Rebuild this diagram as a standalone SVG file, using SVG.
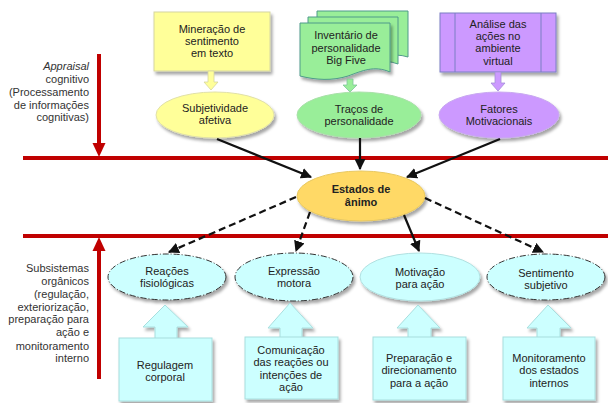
<svg xmlns="http://www.w3.org/2000/svg" width="608" height="403" viewBox="0 0 608 403">
<defs>
<style>
text{font-family:"Liberation Sans",Arial,sans-serif;font-size:11px;fill:#222;text-anchor:middle}
.lt{text-anchor:end;fill:#333}
.b{font-weight:bold}
.red{fill:#c00000}
.con{stroke:#111;stroke-width:2.2;fill:none}
.dash{stroke-dasharray:7,4}
.cy{fill:#ccffff}
.cyb{fill:#ccffff;stroke:#a8dede;stroke-width:1}
.cye{fill:#ccffff;stroke:#333;stroke-width:1;stroke-dasharray:6,2,1,2}
</style>
<filter id="sh" x="-20%" y="-20%" width="150%" height="160%">
<feDropShadow dx="2" dy="3" stdDeviation="1.8" flood-color="#000" flood-opacity="0.35"/>
</filter>
<marker id="ah" viewBox="0 0 10 10" refX="9" refY="5" markerWidth="5" markerHeight="5" orient="auto" markerUnits="strokeWidth">
<path d="M0,0 L10,5 L0,10 Z" fill="#111"/>
</marker>
</defs>
<rect width="608" height="403" fill="#fff"/>

<!-- red bands and arrows -->
<g id="bands">
<rect class="red" x="23" y="156" width="585" height="4"/>
<rect class="red" x="23" y="234" width="585" height="4"/>
<rect class="red" x="97" y="54" width="4" height="90"/>
<polygon class="red" points="92.5,143 105.5,143 99,157"/>
<rect class="red" x="97" y="250" width="4" height="129"/>
<polygon class="red" points="92.5,251 105.5,251 99,237"/>
</g>

<g id="label-appraisal">
<text class="lt" x="89" y="70"><tspan font-style="italic">Appraisal</tspan></text>
<text class="lt" x="89" y="83">cognitivo</text>
<text class="lt" x="89" y="96">(Processamento</text>
<text class="lt" x="89" y="109">de informações</text>
<text class="lt" x="89" y="121">cognitivas)</text>
</g>

<g id="label-subsistemas">
<text class="lt" x="89" y="272">Subsistemas</text>
<text class="lt" x="89" y="285">orgânicos</text>
<text class="lt" x="89" y="298">(regulação,</text>
<text class="lt" x="89" y="311">exteriorização,</text>
<text class="lt" x="89" y="323">preparação para</text>
<text class="lt" x="89" y="336">ação e</text>
<text class="lt" x="89" y="350">monitoramento</text>
<text class="lt" x="89" y="362">interno</text>
</g>

<!-- top source boxes -->
<g id="mineracao">
<rect x="154" y="12" width="116" height="59" fill="#ffff99" stroke="#d6d6a0" stroke-width="1" filter="url(#sh)"/>
<text x="212" y="33">Mineração de</text>
<text x="212" y="45">sentimento</text>
<text x="212" y="57">em texto</text>
</g>
<g id="inventario">
<path d="M317,11 H408 V57 C392,52 380,58 368,62 C352,66 335,62 317,60 Z" fill="#99ee99" stroke="#4f9a8a" stroke-width="1"/>
<path d="M308,17 H398 V64 C382,58 370,64 358,68 C342,72 325,70 308,66 Z" fill="#99ee99" stroke="#4f9a8a" stroke-width="1"/>
<path d="M300,23 H390 V72 C374,65 362,71 348,76 C332,81 316,80 300,76 Z" fill="#99ee99" stroke="#4f9a8a" stroke-width="1" filter="url(#sh)"/>
<text x="346" y="39">Inventário de</text>
<text x="346" y="52">personalidade</text>
<text x="346" y="64">Big Five</text>
</g>
<g id="analise">
<rect x="440" y="13" width="116" height="59" fill="#cc99ff" stroke="#7b7fc4" stroke-width="1" filter="url(#sh)"/>
<line x1="455" y1="13" x2="455" y2="72" stroke="#7b7fc4"/>
<line x1="541" y1="13" x2="541" y2="72" stroke="#7b7fc4"/>
<text x="498" y="28">Análise das</text>
<text x="498" y="40">ações no</text>
<text x="498" y="52">ambiente</text>
<text x="498" y="65">virtual</text>
</g>

<!-- small block arrows top -->
<g id="small-arrows">
<polygon points="208,71 214,71 214,82 218,82 211,90 204,82 208,82" fill="#ffff99" stroke="#d6d6a0" stroke-width="0.8"/>
<polygon points="347,79 353,79 353,85 357,85 350,92 343,85 347,85" fill="#99ee99" stroke="#7fc49a" stroke-width="0.8"/>
<polygon points="495,72 501,72 501,83 505,83 498,91 491,83 495,83" fill="#cc99ff" stroke="#a58fd8" stroke-width="0.8"/>
</g>

<!-- top ellipses -->
<g id="subjetividade">
<ellipse cx="215" cy="115" rx="59" ry="23" fill="#ffff99" stroke="#e0e0a8" filter="url(#sh)"/>
<text x="215" y="112">Subjetividade</text>
<text x="215" y="124">afetiva</text>
</g>
<g id="tracos">
<ellipse cx="359" cy="115" rx="62" ry="23" fill="#99ee99" stroke="#a8e0a8" filter="url(#sh)"/>
<text x="359" y="113">Traços de</text>
<text x="359" y="125">personalidade</text>
</g>
<g id="fatores">
<ellipse cx="499" cy="115" rx="60" ry="23" fill="#cc99ff" stroke="#c8a8f0" filter="url(#sh)"/>
<text x="499" y="113">Fatores</text>
<text x="499" y="125">Motivacionais</text>
</g>

<!-- center -->
<g id="estados">
<ellipse cx="361" cy="196" rx="64" ry="25" fill="#ffd966" stroke="#e8c860" filter="url(#sh)"/>
<text class="b" x="361" y="193">Estados de</text>
<text class="b" x="361" y="206">ânimo</text>
</g>

<!-- connectors -->
<g id="connectors">
<line class="con" x1="217" y1="139" x2="311" y2="177" marker-end="url(#ah)"/>
<line class="con" x1="360" y1="138" x2="360" y2="169" marker-end="url(#ah)"/>
<line class="con" x1="500" y1="139" x2="407" y2="177" marker-end="url(#ah)"/>
<line class="con dash" x1="296" y1="197" x2="169" y2="252" marker-end="url(#ah)"/>
<line class="con dash" x1="310" y1="212" x2="296" y2="251" marker-end="url(#ah)"/>
<line class="con" x1="404" y1="215" x2="419" y2="251" marker-end="url(#ah)"/>
<line class="con dash" x1="425" y1="198" x2="543" y2="252" marker-end="url(#ah)"/>
</g>

<!-- bottom ellipses -->
<g id="reacoes">
<ellipse class="cye" cx="167" cy="277" rx="59" ry="23" filter="url(#sh)"/>
<text x="167" y="275">Reações</text>
<text x="167" y="287">fisiológicas</text>
</g>
<g id="expressao">
<ellipse class="cye" cx="294" cy="277" rx="59" ry="24" filter="url(#sh)"/>
<text x="294" y="275">Expressão</text>
<text x="294" y="287">motora</text>
</g>
<g id="motivacao">
<ellipse cx="420" cy="277" rx="60" ry="24" fill="#ccffff" stroke="#b0e0e0" filter="url(#sh)"/>
<text x="420" y="276">Motivação</text>
<text x="420" y="288">para ação</text>
</g>
<g id="sentimento">
<ellipse class="cye" cx="546" cy="277" rx="59" ry="23" filter="url(#sh)"/>
<text x="546" y="277">Sentimento</text>
<text x="546" y="289">subjetivo</text>
</g>

<!-- bottom block arrows and boxes -->
<g id="regulagem">
<polygon class="cyb" points="155,339 155,327 143,327 165,305 188,327 177,327 177,339" filter="url(#sh)"/>
<rect class="cyb" x="119" y="338" width="93" height="63" filter="url(#sh)"/>
<text x="165" y="369">Regulagem</text>
<text x="165" y="381">corporal</text>
</g>
<g id="comunicacao">
<polygon class="cyb" points="280,338 280,328 268,328 290,303 313,328 302,328 302,338" filter="url(#sh)"/>
<rect class="cyb" x="245" y="337" width="93" height="62" filter="url(#sh)"/>
<text x="291" y="354">Comunicação</text>
<text x="291" y="366">das reações ou</text>
<text x="291" y="379">intenções de</text>
<text x="291" y="391">ação</text>
</g>
<g id="preparacao">
<polygon class="cyb" points="408,338 408,328 397,328 418,305 440,328 431,328 431,338" filter="url(#sh)"/>
<rect class="cyb" x="373" y="337" width="93" height="63" filter="url(#sh)"/>
<text x="419" y="362">Preparação e</text>
<text x="419" y="374">direcionamento</text>
<text x="419" y="387">para a ação</text>
</g>
<g id="monitoramento">
<polygon class="cyb" points="537,338 537,328 527,328 548,305 571,328 560,328 560,338" filter="url(#sh)"/>
<rect class="cyb" x="503" y="337" width="92" height="63" filter="url(#sh)"/>
<text x="549" y="362">Monitoramento</text>
<text x="549" y="374">dos estados</text>
<text x="549" y="387">internos</text>
</g>
</svg>
